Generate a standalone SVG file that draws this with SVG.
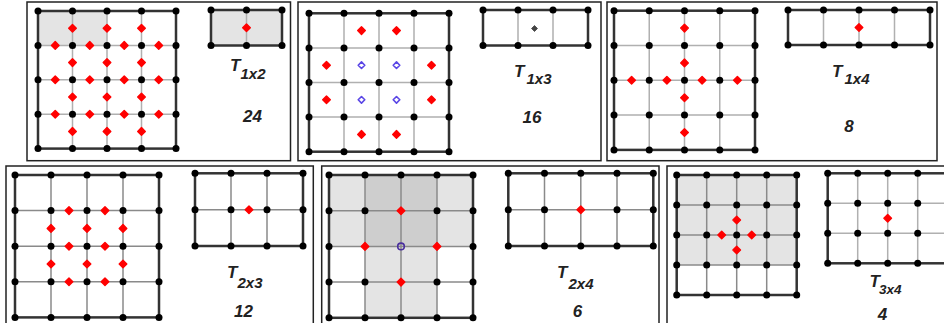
<svg xmlns="http://www.w3.org/2000/svg" width="944" height="323" viewBox="0 0 944 323">
<style>
.pb{fill:none;stroke:#222;stroke-width:1.5}
.go{fill:none;stroke:#333;stroke-width:2.5}
.gi{fill:none;stroke:#b0b0b0;stroke-width:1.5}
.gi2{fill:none;stroke:#8a8a8a;stroke-width:1.5}
.d{fill:#000}
.sh{fill:#e4e4e4}
.sh2{fill:#cecece}
.lbl{font-family:"Liberation Sans",Arial,sans-serif;font-weight:bold;font-style:italic;fill:#222;font-size:17px}
.sub{font-size:15px}
.num{text-anchor:middle}
</style>
<defs>
<path id="rd" d="M0,-3.8L3.8,0L0,3.8L-3.8,0Z" fill="#ff0000" stroke="#ff0000" stroke-width="1.4" stroke-linejoin="round"/>
<path id="bd" d="M0,-3.3L3.3,0L0,3.3L-3.3,0Z" fill="none" stroke="#5a46e6" stroke-width="1.6" stroke-linejoin="round"/>
</defs>
<rect width="944" height="323" fill="#fff"/>

<g id="panel-1x2">
<rect class="pb" x="27" y="2" width="263.5" height="158.7"/>
<rect class="sh" x="38" y="11" width="69" height="34.4"/>
<path class="gi" d="M72.5,11V148.6M107,11V148.6M141.5,11V148.6M38,45.4H176M38,79.8H176M38,114.2H176"/>
<rect class="go" x="38" y="11" width="138" height="137.6"/>
<g class="d">
<circle cx="38" cy="11" r="3.5"/><circle cx="72.5" cy="11" r="3.5"/><circle cx="107" cy="11" r="3.5"/><circle cx="141.5" cy="11" r="3.5"/><circle cx="176" cy="11" r="3.5"/>
<circle cx="38" cy="45.4" r="3.5"/><circle cx="72.5" cy="45.4" r="3.5"/><circle cx="107" cy="45.4" r="3.5"/><circle cx="141.5" cy="45.4" r="3.5"/><circle cx="176" cy="45.4" r="3.5"/>
<circle cx="38" cy="79.8" r="3.5"/><circle cx="72.5" cy="79.8" r="3.5"/><circle cx="107" cy="79.8" r="3.5"/><circle cx="141.5" cy="79.8" r="3.5"/><circle cx="176" cy="79.8" r="3.5"/>
<circle cx="38" cy="114.2" r="3.5"/><circle cx="72.5" cy="114.2" r="3.5"/><circle cx="107" cy="114.2" r="3.5"/><circle cx="141.5" cy="114.2" r="3.5"/><circle cx="176" cy="114.2" r="3.5"/>
<circle cx="38" cy="148.6" r="3.5"/><circle cx="72.5" cy="148.6" r="3.5"/><circle cx="107" cy="148.6" r="3.5"/><circle cx="141.5" cy="148.6" r="3.5"/><circle cx="176" cy="148.6" r="3.5"/>
</g>
<use href="#rd" x="72.5" y="28.2"/><use href="#rd" x="107" y="28.2"/><use href="#rd" x="141.5" y="28.2"/>
<use href="#rd" x="55.25" y="45.4"/><use href="#rd" x="89.75" y="45.4"/><use href="#rd" x="124.25" y="45.4"/><use href="#rd" x="158.75" y="45.4"/>
<use href="#rd" x="72.5" y="62.6"/><use href="#rd" x="107" y="62.6"/><use href="#rd" x="141.5" y="62.6"/>
<use href="#rd" x="55.25" y="79.8"/><use href="#rd" x="89.75" y="79.8"/><use href="#rd" x="124.25" y="79.8"/><use href="#rd" x="158.75" y="79.8"/>
<use href="#rd" x="72.5" y="97"/><use href="#rd" x="107" y="97"/><use href="#rd" x="141.5" y="97"/>
<use href="#rd" x="55.25" y="114.2"/><use href="#rd" x="89.75" y="114.2"/><use href="#rd" x="124.25" y="114.2"/><use href="#rd" x="158.75" y="114.2"/>
<use href="#rd" x="72.5" y="131.4"/><use href="#rd" x="107" y="131.4"/><use href="#rd" x="141.5" y="131.4"/>
<rect class="sh" x="211" y="10" width="71" height="35.5"/>
<path class="gi" d="M246.5,10V45.5"/>
<rect class="go" x="211" y="10" width="71" height="35.5"/>
<g class="d"><circle cx="211" cy="10" r="3.5"/><circle cx="246.5" cy="10" r="3.5"/><circle cx="282" cy="10" r="3.5"/><circle cx="211" cy="45.5" r="3.5"/><circle cx="246.5" cy="45.5" r="3.5"/><circle cx="282" cy="45.5" r="3.5"/></g>
<use href="#rd" x="246.5" y="27.7"/>
<text class="lbl" x="230" y="71">T<tspan class="sub" x="240.5" y="78.5">1x2</tspan></text>
<text class="lbl num" x="252.5" y="122">24</text>
</g>

<g id="panel-1x3">
<rect class="pb" x="298" y="2" width="303" height="158.7"/>
<path class="gi" d="M344,13.3V151.7M379,13.3V151.7M414,13.3V151.7M309,47.9H449M309,82.5H449M309,117.1H449"/>
<rect class="go" x="309" y="13.3" width="140" height="138.4"/>
<g class="d">
<circle cx="309" cy="13.3" r="3.5"/><circle cx="344" cy="13.3" r="3.5"/><circle cx="379" cy="13.3" r="3.5"/><circle cx="414" cy="13.3" r="3.5"/><circle cx="449" cy="13.3" r="3.5"/>
<circle cx="309" cy="47.9" r="3.5"/><circle cx="344" cy="47.9" r="3.5"/><circle cx="379" cy="47.9" r="3.5"/><circle cx="414" cy="47.9" r="3.5"/><circle cx="449" cy="47.9" r="3.5"/>
<circle cx="309" cy="82.5" r="3.5"/><circle cx="344" cy="82.5" r="3.5"/><circle cx="379" cy="82.5" r="3.5"/><circle cx="414" cy="82.5" r="3.5"/><circle cx="449" cy="82.5" r="3.5"/>
<circle cx="309" cy="117.1" r="3.5"/><circle cx="344" cy="117.1" r="3.5"/><circle cx="379" cy="117.1" r="3.5"/><circle cx="414" cy="117.1" r="3.5"/><circle cx="449" cy="117.1" r="3.5"/>
<circle cx="309" cy="151.7" r="3.5"/><circle cx="344" cy="151.7" r="3.5"/><circle cx="379" cy="151.7" r="3.5"/><circle cx="414" cy="151.7" r="3.5"/><circle cx="449" cy="151.7" r="3.5"/>
</g>
<use href="#rd" x="361.5" y="30.6"/><use href="#rd" x="396.5" y="30.6"/>
<use href="#rd" x="326.5" y="65.2"/><use href="#rd" x="431.5" y="65.2"/>
<use href="#rd" x="326.5" y="99.8"/><use href="#rd" x="431.5" y="99.8"/>
<use href="#rd" x="361.5" y="134.4"/><use href="#rd" x="396.5" y="134.4"/>
<use href="#bd" x="361.5" y="65.2"/><use href="#bd" x="396.5" y="65.2"/><use href="#bd" x="361.5" y="99.8"/><use href="#bd" x="396.5" y="99.8"/>
<path class="gi" d="M518,10V45.5M553,10V45.5"/>
<rect class="go" x="483" y="10" width="105" height="35.5"/>
<g class="d"><circle cx="483" cy="10" r="3.5"/><circle cx="518" cy="10" r="3.5"/><circle cx="553" cy="10" r="3.5"/><circle cx="588" cy="10" r="3.5"/><circle cx="483" cy="45.5" r="3.5"/><circle cx="518" cy="45.5" r="3.5"/><circle cx="553" cy="45.5" r="3.5"/><circle cx="588" cy="45.5" r="3.5"/></g>
<path d="M534.5,25.5L537.5,28.5L534.5,31.5L531.5,28.5Z" fill="#444" stroke="#444" stroke-width="0.8" stroke-linejoin="round"/>
<text class="lbl" x="514" y="77">T<tspan class="sub" x="526.5" y="83.5">1x3</tspan></text>
<text class="lbl num" x="532" y="123">16</text>
</g>

<g id="panel-1x4">
<rect class="pb" x="607" y="2" width="330" height="158.7"/>
<path class="gi" d="M649.25,10.7V149.9M684.5,10.7V149.9M719.75,10.7V149.9M614,45.5H755M614,80.3H755M614,115.1H755"/>
<rect class="go" x="614" y="10.7" width="141" height="139.2"/>
<g class="d">
<circle cx="614" cy="10.7" r="3.5"/><circle cx="649.25" cy="10.7" r="3.5"/><circle cx="684.5" cy="10.7" r="3.5"/><circle cx="719.75" cy="10.7" r="3.5"/><circle cx="755" cy="10.7" r="3.5"/>
<circle cx="614" cy="45.5" r="3.5"/><circle cx="649.25" cy="45.5" r="3.5"/><circle cx="684.5" cy="45.5" r="3.5"/><circle cx="719.75" cy="45.5" r="3.5"/><circle cx="755" cy="45.5" r="3.5"/>
<circle cx="614" cy="80.3" r="3.5"/><circle cx="649.25" cy="80.3" r="3.5"/><circle cx="684.5" cy="80.3" r="3.5"/><circle cx="719.75" cy="80.3" r="3.5"/><circle cx="755" cy="80.3" r="3.5"/>
<circle cx="614" cy="115.1" r="3.5"/><circle cx="649.25" cy="115.1" r="3.5"/><circle cx="684.5" cy="115.1" r="3.5"/><circle cx="719.75" cy="115.1" r="3.5"/><circle cx="755" cy="115.1" r="3.5"/>
<circle cx="614" cy="149.9" r="3.5"/><circle cx="649.25" cy="149.9" r="3.5"/><circle cx="684.5" cy="149.9" r="3.5"/><circle cx="719.75" cy="149.9" r="3.5"/><circle cx="755" cy="149.9" r="3.5"/>
</g>
<use href="#rd" x="684.5" y="28.1"/><use href="#rd" x="684.5" y="62.9"/>
<use href="#rd" x="631.6" y="80.3"/><use href="#rd" x="666.9" y="80.3"/><use href="#rd" x="702.1" y="80.3"/><use href="#rd" x="737.4" y="80.3"/>
<use href="#rd" x="684.5" y="97.7"/><use href="#rd" x="684.5" y="132.5"/>
<path class="gi" d="M823.5,10V45M859,10V45M894.5,10V45"/>
<rect class="go" x="788" y="10" width="142" height="35"/>
<g class="d"><circle cx="788" cy="10" r="3.5"/><circle cx="823.5" cy="10" r="3.5"/><circle cx="859" cy="10" r="3.5"/><circle cx="894.5" cy="10" r="3.5"/><circle cx="930" cy="10" r="3.5"/><circle cx="788" cy="45" r="3.5"/><circle cx="823.5" cy="45" r="3.5"/><circle cx="859" cy="45" r="3.5"/><circle cx="894.5" cy="45" r="3.5"/><circle cx="930" cy="45" r="3.5"/></g>
<use href="#rd" x="859" y="27.5"/>
<text class="lbl" x="832" y="77">T<tspan class="sub" x="844.5" y="83.5">1x4</tspan></text>
<text class="lbl num" x="849" y="131.5">8</text>
</g>

<g id="panel-2x3">
<rect class="pb" x="6" y="166" width="307.3" height="170"/>
<path class="gi2" d="M51,175V317.4M87,175V317.4M123,175V317.4M15,210.6H159M15,246.2H159M15,281.8H159"/>
<rect class="go" x="15" y="175" width="144" height="142.4"/>
<g class="d">
<circle cx="15" cy="175" r="3.5"/><circle cx="51" cy="175" r="3.5"/><circle cx="87" cy="175" r="3.5"/><circle cx="123" cy="175" r="3.5"/><circle cx="159" cy="175" r="3.5"/>
<circle cx="15" cy="210.6" r="3.5"/><circle cx="51" cy="210.6" r="3.5"/><circle cx="87" cy="210.6" r="3.5"/><circle cx="123" cy="210.6" r="3.5"/><circle cx="159" cy="210.6" r="3.5"/>
<circle cx="15" cy="246.2" r="3.5"/><circle cx="51" cy="246.2" r="3.5"/><circle cx="87" cy="246.2" r="3.5"/><circle cx="123" cy="246.2" r="3.5"/><circle cx="159" cy="246.2" r="3.5"/>
<circle cx="15" cy="281.8" r="3.5"/><circle cx="51" cy="281.8" r="3.5"/><circle cx="87" cy="281.8" r="3.5"/><circle cx="123" cy="281.8" r="3.5"/><circle cx="159" cy="281.8" r="3.5"/>
<circle cx="15" cy="317.4" r="3.5"/><circle cx="51" cy="317.4" r="3.5"/><circle cx="87" cy="317.4" r="3.5"/><circle cx="123" cy="317.4" r="3.5"/><circle cx="159" cy="317.4" r="3.5"/>
</g>
<use href="#rd" x="69" y="210.6"/><use href="#rd" x="105" y="210.6"/>
<use href="#rd" x="51" y="228.4"/><use href="#rd" x="87" y="228.4"/><use href="#rd" x="123" y="228.4"/>
<use href="#rd" x="69" y="246.2"/><use href="#rd" x="105" y="246.2"/>
<use href="#rd" x="51" y="264"/><use href="#rd" x="87" y="264"/><use href="#rd" x="123" y="264"/>
<use href="#rd" x="69" y="281.8"/><use href="#rd" x="105" y="281.8"/>
<path class="gi2" d="M231,173.3V246M267,173.3V246M195,209.7H303"/>
<rect class="go" x="195" y="173.3" width="108" height="72.7"/>
<g class="d"><circle cx="195" cy="173.3" r="3.5"/><circle cx="231" cy="173.3" r="3.5"/><circle cx="267" cy="173.3" r="3.5"/><circle cx="303" cy="173.3" r="3.5"/><circle cx="195" cy="209.7" r="3.5"/><circle cx="231" cy="209.7" r="3.5"/><circle cx="267" cy="209.7" r="3.5"/><circle cx="303" cy="209.7" r="3.5"/><circle cx="195" cy="246" r="3.5"/><circle cx="231" cy="246" r="3.5"/><circle cx="267" cy="246" r="3.5"/><circle cx="303" cy="246" r="3.5"/></g>
<use href="#rd" x="249" y="209.7"/>
<text class="lbl" x="227" y="278">T<tspan class="sub" x="237.5" y="288">2x3</tspan></text>
<text class="lbl num" x="243.5" y="316.5">12</text>
</g>

<g id="panel-2x4">
<rect class="pb" x="321.7" y="166" width="337.3" height="170"/>
<rect class="sh" x="329" y="175" width="144" height="71.4"/>
<rect class="sh" x="365" y="246.4" width="72" height="71.4"/>
<rect class="sh2" x="365" y="175" width="72" height="71.4"/>
<path class="gi2" d="M365,175V317.8M401,175V317.8M437,175V317.8M329,210.7H473M329,246.4H473M329,282.1H473"/>
<rect class="go" x="329" y="175" width="144" height="142.8"/>
<g class="d">
<circle cx="329" cy="175" r="3.5"/><circle cx="365" cy="175" r="3.5"/><circle cx="401" cy="175" r="3.5"/><circle cx="437" cy="175" r="3.5"/><circle cx="473" cy="175" r="3.5"/>
<circle cx="329" cy="210.7" r="3.5"/><circle cx="365" cy="210.7" r="3.5"/><circle cx="437" cy="210.7" r="3.5"/><circle cx="473" cy="210.7" r="3.5"/>
<circle cx="329" cy="246.4" r="3.5"/><circle cx="473" cy="246.4" r="3.5"/>
<circle cx="329" cy="282.1" r="3.5"/><circle cx="365" cy="282.1" r="3.5"/><circle cx="437" cy="282.1" r="3.5"/><circle cx="473" cy="282.1" r="3.5"/>
<circle cx="329" cy="317.8" r="3.5"/><circle cx="365" cy="317.8" r="3.5"/><circle cx="401" cy="317.8" r="3.5"/><circle cx="437" cy="317.8" r="3.5"/><circle cx="473" cy="317.8" r="3.5"/>
</g>
<use href="#rd" x="401" y="210.7"/><use href="#rd" x="365" y="246.4"/><use href="#rd" x="437" y="246.4"/><use href="#rd" x="401" y="282.1"/>
<circle cx="401" cy="246.4" r="3.3" fill="none" stroke="#4a2f9e" stroke-width="1.6"/>
<path class="gi2" d="M544.5,173.3V246M580.8,173.3V246M617,173.3V246M508.3,209.7H653.3"/>
<rect class="go" x="508.3" y="173.3" width="145" height="72.7"/>
<g class="d"><circle cx="508.3" cy="173.3" r="3.5"/><circle cx="544.5" cy="173.3" r="3.5"/><circle cx="580.8" cy="173.3" r="3.5"/><circle cx="617" cy="173.3" r="3.5"/><circle cx="653.3" cy="173.3" r="3.5"/><circle cx="508.3" cy="209.7" r="3.5"/><circle cx="544.5" cy="209.7" r="3.5"/><circle cx="617" cy="209.7" r="3.5"/><circle cx="653.3" cy="209.7" r="3.5"/><circle cx="508.3" cy="246" r="3.5"/><circle cx="544.5" cy="246" r="3.5"/><circle cx="580.8" cy="246" r="3.5"/><circle cx="617" cy="246" r="3.5"/><circle cx="653.3" cy="246" r="3.5"/></g>
<use href="#rd" x="580.8" y="209.7"/>
<text class="lbl" x="557" y="278">T<tspan class="sub" x="568.5" y="289">2x4</tspan></text>
<text class="lbl num" x="577.5" y="316.5">6</text>
</g>

<g id="panel-3x4">
<rect class="pb" x="667" y="166" width="290" height="170"/>
<rect class="sh" x="676.7" y="175" width="120" height="90"/>
<path class="gi2" d="M706.7,175V295M736.7,175V295M766.7,175V295M676.7,205H796.7M676.7,235H796.7M676.7,265H796.7"/>
<rect class="go" x="676.7" y="175" width="120" height="120"/>
<g class="d">
<circle cx="676.7" cy="175" r="3.5"/><circle cx="706.7" cy="175" r="3.5"/><circle cx="736.7" cy="175" r="3.5"/><circle cx="766.7" cy="175" r="3.5"/><circle cx="796.7" cy="175" r="3.5"/>
<circle cx="676.7" cy="205" r="3.5"/><circle cx="706.7" cy="205" r="3.5"/><circle cx="736.7" cy="205" r="3.5"/><circle cx="766.7" cy="205" r="3.5"/><circle cx="796.7" cy="205" r="3.5"/>
<circle cx="676.7" cy="235" r="3.5"/><circle cx="706.7" cy="235" r="3.5"/><circle cx="736.7" cy="235" r="3.5"/><circle cx="766.7" cy="235" r="3.5"/><circle cx="796.7" cy="235" r="3.5"/>
<circle cx="676.7" cy="265" r="3.5"/><circle cx="706.7" cy="265" r="3.5"/><circle cx="736.7" cy="265" r="3.5"/><circle cx="766.7" cy="265" r="3.5"/><circle cx="796.7" cy="265" r="3.5"/>
<circle cx="676.7" cy="295" r="3.5"/><circle cx="706.7" cy="295" r="3.5"/><circle cx="736.7" cy="295" r="3.5"/><circle cx="766.7" cy="295" r="3.5"/><circle cx="796.7" cy="295" r="3.5"/>
</g>
<use href="#rd" x="736.7" y="220"/><use href="#rd" x="721.7" y="235"/><use href="#rd" x="751.7" y="235"/><use href="#rd" x="736.7" y="250"/>
<path class="gi" d="M857.7,173.3V263.3M887.7,173.3V263.3M917.7,173.3V263.3M827.7,203.3H947.7M827.7,233.3H947.7"/>
<rect class="go" x="827.7" y="173.3" width="120" height="90"/>
<g class="d">
<circle cx="827.7" cy="173.3" r="3.5"/><circle cx="857.7" cy="173.3" r="3.5"/><circle cx="887.7" cy="173.3" r="3.5"/><circle cx="917.7" cy="173.3" r="3.5"/>
<circle cx="827.7" cy="203.3" r="3.5"/><circle cx="857.7" cy="203.3" r="3.5"/><circle cx="887.7" cy="203.3" r="3.5"/><circle cx="917.7" cy="203.3" r="3.5"/>
<circle cx="827.7" cy="233.3" r="3.5"/><circle cx="857.7" cy="233.3" r="3.5"/><circle cx="887.7" cy="233.3" r="3.5"/><circle cx="917.7" cy="233.3" r="3.5"/>
<circle cx="827.7" cy="263.3" r="3.5"/><circle cx="857.7" cy="263.3" r="3.5"/><circle cx="887.7" cy="263.3" r="3.5"/><circle cx="917.7" cy="263.3" r="3.5"/>
</g>
<use href="#rd" x="887.7" y="218.3"/>
<text class="lbl" x="869.5" y="287" font-size="15">T<tspan x="879" y="293.5" font-size="13.5">3x4</tspan></text>
<text class="lbl num" x="882.5" y="319.5">4</text>
</g>
</svg>
